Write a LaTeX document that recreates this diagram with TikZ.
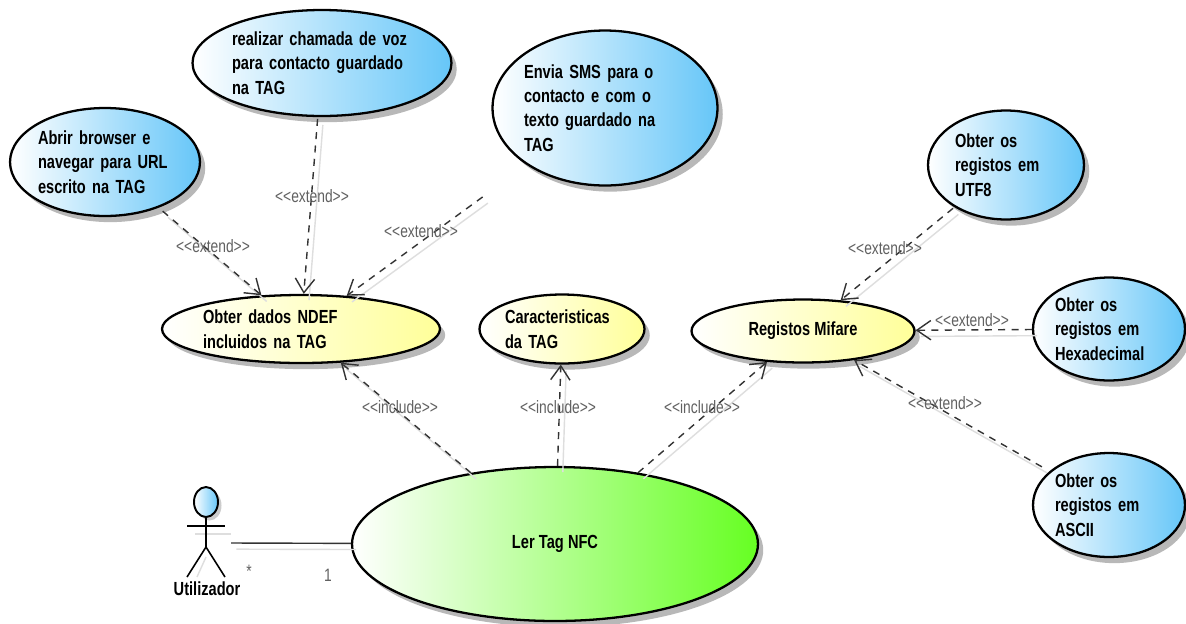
\documentclass[tikz,border=0pt]{standalone}
\usepackage{fontspec}
\newfontfamily\umlfont[FakeStretch=.77]{Liberation Sans}
\newcommand\usecasefont{\umlfont\fontsize{10.8}{13.9}\selectfont\bfseries\spaceskip 2.4pt\relax}
\usetikzlibrary{arrows.meta,shapes.geometric,shadows}
\definecolor{extblue}{HTML}{66C6F8}
\definecolor{grpyellow}{HTML}{FFFF99}
\definecolor{mainlime}{HTML}{66FF22}
\definecolor{depgray}{HTML}{333333}
\definecolor{ghostgray}{HTML}{DEDEDE}
\begin{document}
\begin{tikzpicture}[x=.02cm,y=-.02cm]
\tikzstyle{usecase}=[ellipse,draw,line width=1.3pt,inner sep=-2pt,align=left,
  font=\usecasefont,
  drop shadow={shadow xshift=3pt,shadow yshift=-3.5pt,fill=black,opacity=.28}]
\tikzstyle{extuse}=[usecase,left color=white,right color=extblue]
\tikzstyle{grpuse}=[usecase,left color=white,right color=grpyellow]
\tikzstyle{mainuse}=[usecase,left color=white,right color=mainlime]
\tikzstyle{dep}=[draw=depgray,line width=.8pt,dash pattern=on 4pt off 3.6pt,
  -{Straight Barb[length=8pt,width=11pt]}]
\tikzstyle{ghost}=[draw=ghostgray,line width=.8pt,transform canvas={xshift=3pt,yshift=-3.5pt}]
\tikzstyle{tag}=[font=\umlfont\fontsize{10.2}{10}\selectfont,text=black!62,inner sep=0pt]
\useasboundingbox (0,0) rectangle (1186,623);
\fill[white] (0,0) rectangle (1186,623);
\draw (322,63) node (call) [extuse,text width=3.6cm,minimum width=5.18cm,minimum height=2.12cm]
  {realizar chamada de voz\\para contacto guardado\\na TAG};
\draw (105,162) node (abrir) [extuse,text width=2.68cm,minimum width=3.8cm,minimum height=2.16cm]
  {Abrir browser e\\navegar para URL\\escrito na TAG};
\draw (605,108) node (sms) [extuse,text width=3.24cm,minimum width=4.5cm,minimum height=3.1cm]
  {Envia SMS para o\\contacto e com o\\texto guardado na\\TAG};
\draw (1006,165) node (utf) [extuse,text width=2.04cm,minimum width=3.12cm,minimum height=2.18cm]
  {Obter os\\registos em\\UTF8};
\draw (1109,329) node (hexa) [extuse,text width=2.16cm,minimum width=3.04cm,minimum height=2.06cm]
  {Obter os\\registos em\\Hexadecimal};
\draw (1109,505) node (ascii) [extuse,text width=2.16cm,minimum width=3.04cm,minimum height=2.08cm]
  {Obter os\\registos em\\ASCII};
\draw (301,329) node (dados) [grpuse,text width=3.92cm,minimum width=5.56cm,minimum height=1.36cm]
  {Obter dados NDEF\\incluidos na TAG};
\draw (562,329) node (carac) [grpuse,text width=2.28cm,minimum width=3.3cm,minimum height=1.38cm]
  {Caracteristicas\\da TAG};
\draw (803,331) node (mifare) [grpuse,minimum width=4.46cm,minimum height=1.26cm]
  {Registos Mifare};
\draw (555,544) node (ler) [mainuse,minimum width=8.12cm,minimum height=3.08cm]
  {Ler Tag NFC};
\draw (206,502) node (head) [ellipse,draw,line width=1.1pt,inner sep=0pt,left color=white,right color=extblue,
  minimum width=.48cm,minimum height=.6cm,
  drop shadow={shadow xshift=2pt,shadow yshift=-2pt,fill=black,opacity=.2}] {};
\coordinate (neck) at (206,517);
\coordinate (hip) at (206,547);
\coordinate (armL) at (187,526);
\coordinate (armR) at (225,526);
\coordinate (footL) at (187,577);
\coordinate (footR) at (225,577);
\coordinate (hand) at (231,543);
\draw[ghostgray,line width=.8pt] (195,534) -- (231,534);
\draw[ghostgray,line width=.8pt] (197,577) -- (206,557);
\draw[line width=.9pt] (neck) -- (hip) (footL) -- (hip) -- (footR);
\draw[line width=1.3pt] (armL) -- (armR);
\draw[ghost] (hand) -- (ler);
\draw[depgray,line width=.8pt] (hand) -- (ler);
\foreach \from/\to/\gap in {abrir/dados/3pt,call/dados/1pt,sms/dados/31pt,utf/mifare/1pt,
  hexa/mifare/0pt,ascii/mifare/5pt,ler/dados/0pt,ler/carac/0pt,ler/mifare/0pt} {
  \draw[ghost,shorten <=\gap] (\from) -- (\to);
  \draw[dep,shorten <=\gap] (\from) -- (\to);
}
\node (actor) at (207,589) [font=\usecasefont,inner sep=0pt] {Utilizador};
\node (many) at (249,571) [tag] {*};
\node (one) at (328,575) [tag] {1};
\node (ext1) at (312,196) [tag] {<<extend>>};
\node (ext2) at (213,246) [tag] {<<extend>>};
\node (ext3) at (421,231) [tag] {<<extend>>};
\node (ext4) at (885,248) [tag] {<<extend>>};
\node (ext5) at (972,320) [tag] {<<extend>>};
\node (ext6) at (945,403) [tag] {<<extend>>};
\node (inc1) at (400,407) [tag] {<<include>>};
\node (inc2) at (558,407) [tag] {<<include>>};
\node (inc3) at (702,407) [tag] {<<include>>};
\end{tikzpicture}
\end{document}
